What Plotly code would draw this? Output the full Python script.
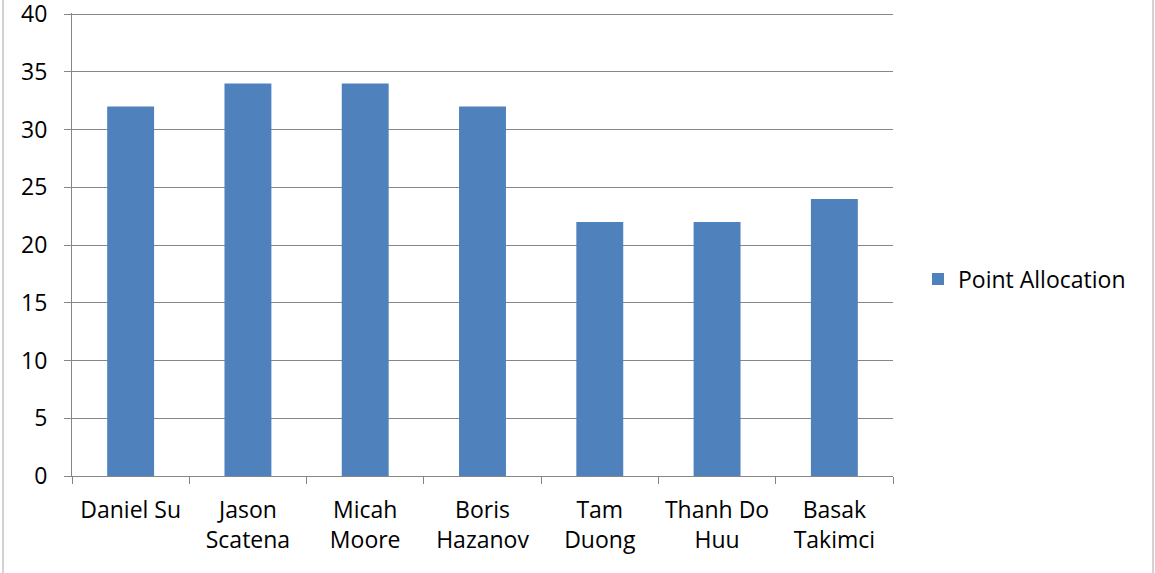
import plotly.graph_objects as go

# Point allocation per person
names = ["Daniel Su", "Jason<br>Scatena", "Micah<br>Moore", "Boris<br>Hazanov",
         "Tam<br>Duong", "Thanh Do<br>Huu", "Basak<br>Takimci"]
points = [32, 34, 34, 32, 22, 22, 24]
y_ticks = [0, 5, 10, 15, 20, 25, 30, 35, 40]

W, H = 1155, 573
L, R, T, B = 72, 262, 13, 97
AXIS = "#868686"
FONT = "Open Sans"
FS = 23

fig = go.Figure()
fig.add_trace(go.Bar(
    x=names, y=points, name="Point Allocation",
    marker=dict(color="#4F81BD", line=dict(width=0)),
))

fig.update_layout(
    width=W, height=H,
    margin=dict(l=L, r=R, t=T, b=B, pad=0, autoexpand=False),
    paper_bgcolor="white", plot_bgcolor="white",
    bargap=0.6,
    font=dict(family=FONT, size=FS, color="black"),
    showlegend=True,
    legend=dict(x=(918 - L) / (W - L - R), y=(476 - 279) / (H - T - B),
                xanchor="left", yanchor="middle",
                font=dict(family=FONT, size=FS, color="black"),
                itemwidth=30, bgcolor="rgba(0,0,0,0)"),
    xaxis=dict(
        showline=True, linecolor=AXIS, linewidth=1,
        ticks="outside", tickson="boundaries", ticklen=7, tickcolor=AXIS,
        showgrid=False, tickfont=dict(family=FONT, size=FS),
        ticklabelstandoff=13, automargin=False,
    ),
    yaxis=dict(
        # a little headroom so the 40 gridline is kept
        range=[0, 40.1], tickvals=y_ticks,
        showline=True, linecolor=AXIS, linewidth=1,
        ticks="outside", ticklen=7, tickcolor=AXIS,
        showgrid=True, gridcolor=AXIS, gridwidth=1,
        zeroline=False, ticklabelstandoff=12,
        ticklabeloverflow="allow", automargin=False,
        tickfont=dict(family=FONT, size=FS),
    ),
    shapes=[
        dict(type="rect", xref="paper", yref="paper",
             x0=(3 - L) / (W - L - R), x1=(1153 - L) / (W - L - R),
             y0=-0.5, y1=1.5, line=dict(color="#A6A6A6", width=1),
             fillcolor="rgba(0,0,0,0)", layer="below"),
    ],
)

fig.write_html("out.html")
